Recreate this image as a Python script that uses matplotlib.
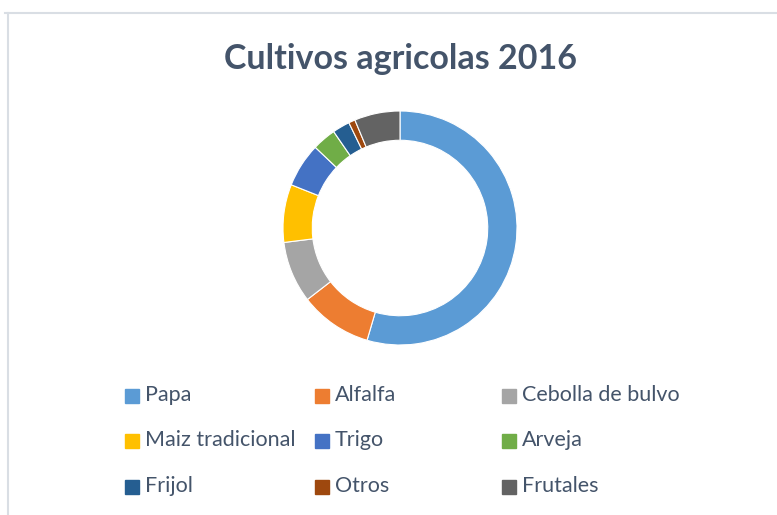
import matplotlib.pyplot as plt
from matplotlib.lines import Line2D

plt.rcParams['font.family'] = ['Lato', 'DejaVu Sans']

cultivos = ["Papa", "Alfalfa", "Cebolla de bulvo", "Maiz tradicional", "Trigo",
            "Arveja", "Frijol", "Otros", "Frutales"]
porcentaje = [54.6, 10.0, 8.5, 8.0, 6.1, 3.3, 2.4, 0.9, 6.3]
colores = ["#5B9BD5", "#ED7D31", "#A5A5A5", "#FFC000", "#4472C4",
           "#70AD47", "#255E91", "#9E480E", "#636363"]
texto = "#44546A"

fig = plt.figure(figsize=(7.77, 5.15), dpi=100)

# marco gris claro
fig.add_artist(Line2D([5 / 777, 1], [1 - 12.5 / 515, 1 - 12.5 / 515],
                      transform=fig.transFigure, color="#D9DEE4", lw=1.5))
fig.add_artist(Line2D([7.5 / 777, 7.5 / 777], [0, 1 - 12.5 / 515],
                      transform=fig.transFigure, color="#D9DEE4", lw=1.5))

fig.text(400 / 777, 1 - 59 / 515, "Cultivos agricolas 2016", ha="center", va="center",
         fontsize=24.5, fontweight="bold", color=texto)

# dona
r = 117
ax = fig.add_axes([(400 - r) / 777, 1 - (228 + r) / 515, 2 * r / 777, 2 * r / 515])
ax.pie(porcentaje, colors=colores, startangle=90, counterclock=False,
       wedgeprops=dict(width=0.25, edgecolor="white", linewidth=0.8))
ax.set_aspect("equal")
ax.set_xlim(-1, 1)
ax.set_ylim(-1, 1)
ax.axis("off")

# leyenda en 3 columnas
col_x = [132, 322, 509]
fila_y = [396, 441, 487]
for i, (nombre, c) in enumerate(zip(cultivos, colores)):
    x = col_x[i % 3]
    y = fila_y[i // 3]
    fig.patches.append(plt.Rectangle(((x - 7) / 777, 1 - (y + 7) / 515), 14 / 777, 14 / 515,
                                     transform=fig.transFigure, color=c))
    fig.text((x + 13) / 777, 1 - (y - 1) / 515, nombre, ha="left", va="center",
             fontsize=15.5, color=texto)

fig.savefig("out.png", dpi=100)
